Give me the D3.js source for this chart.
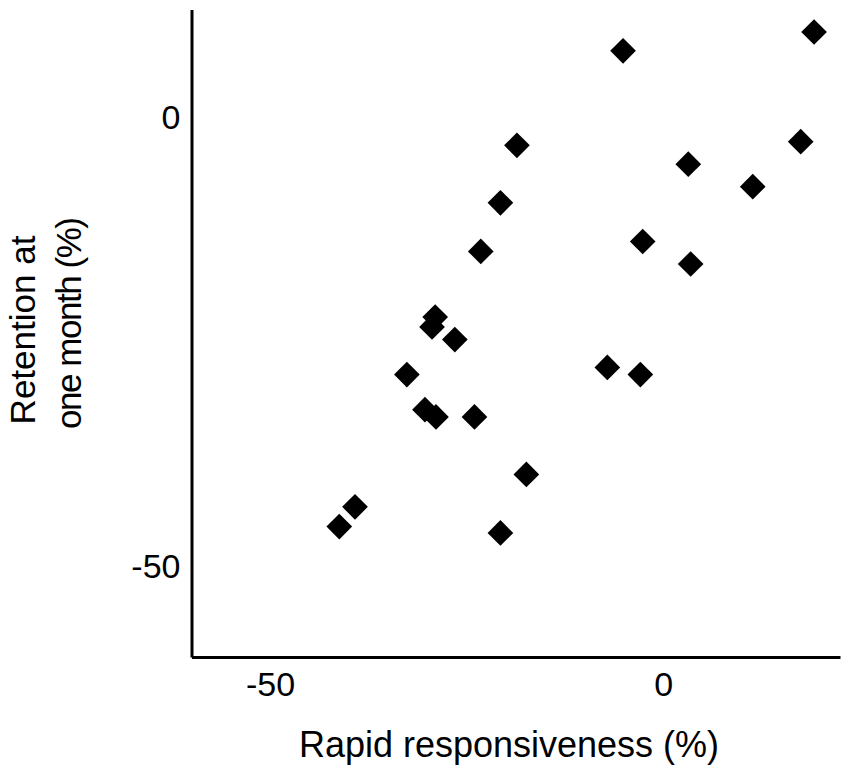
<!DOCTYPE html>
<html lang="en">
<head>
    <meta charset="UTF-8">
    <title>Retention vs rapid responsiveness</title>
    <script src="https://d3js.org/d3.v7.min.js"></script>
    <style>
        body, html { margin: 0; background-color: #ffffff; }
        svg { display: block; }
        text { font-family: 'Liberation Sans', Arial, sans-serif; fill: #000000; }
        .tick text { font-size: 34px; }
        .axis-title { font-size: 35px; text-anchor: middle; }
        .domain { stroke: #000000; stroke-width: 3; }
    </style>
</head>
<body>
    <svg width="850" height="770"></svg>
    <script>
        // values
        const responsiveness = [-29.0, -29.4, -26.5, -32.6, -30.3, -28.9, -24.0, -17.4, -39.2, -41.2, -20.7,
                                -5.1, -18.6, 3.2, -20.7, -23.2, -2.6, 3.5, 19.2, 17.5, 11.4, -7.1, -2.9];
        const retention = [-22.2, -23.3, -24.7, -28.6, -32.5, -33.3, -33.3, -39.7, -43.3, -45.5, -46.2,
                           7.4, -3.1, -5.2, -9.5, -14.9, -13.8, -16.3, 9.5, -2.7, -7.7, -27.8, -28.6];
        const xTicks = [-50, 0];
        const yTicks = [0, -50];
        const xTitle = "Rapid responsiveness (%)";
        const yTitleLines = ["Retention at", "one month (%)"];

        const svg = d3.select("svg");
        const plotLeft = 191.5, plotRight = 840, plotTop = 9.5, plotBottom = 657;

        const x = d3.scaleLinear().domain([-60, 22.5]).range([plotLeft, plotRight]);
        const y = d3.scaleLinear().domain([-60, 12]).range([plotBottom, plotTop]);

        svg.append("g")
            .attr("transform", `translate(0,${plotBottom})`)
            .call(d3.axisBottom(x).tickValues(xTicks).tickSize(0).tickPadding(15));

        svg.append("g")
            .attr("transform", `translate(${plotLeft},0)`)
            .call(d3.axisLeft(y).tickValues(yTicks).tickSize(0).tickPadding(11));

        // keep a plain hyphen for the minus sign, like the original
        svg.selectAll(".tick text").text(d => String(d));

        const diamond = d3.symbol().type(d3.symbolSquare).size(330);

        svg.selectAll("path.point")
            .data(responsiveness.map((v, i) => [v, retention[i]]))
            .enter().append("path")
            .attr("class", "point")
            .attr("d", diamond)
            .attr("transform", d => `translate(${x(d[0])},${y(d[1])}) rotate(45)`)
            .attr("fill", "black");

        svg.append("text")
            .attr("class", "axis-title")
            .attr("x", 509)
            .attr("y", 757)
            .style("font-size", "36px")
            .text(xTitle);

        // second line is set tighter in the original
        svg.selectAll("text.y-title")
            .data(yTitleLines)
            .enter().append("text")
            .attr("class", "axis-title y-title")
            .attr("transform", (d, i) => `translate(${35 + i * 46},${i ? 323 : 330}) rotate(-90)`)
            .attr("textLength", (d, i) => i ? 212 : null)
            .attr("lengthAdjust", "spacing")
            .text(d => d);
    </script>
</body>
</html>
